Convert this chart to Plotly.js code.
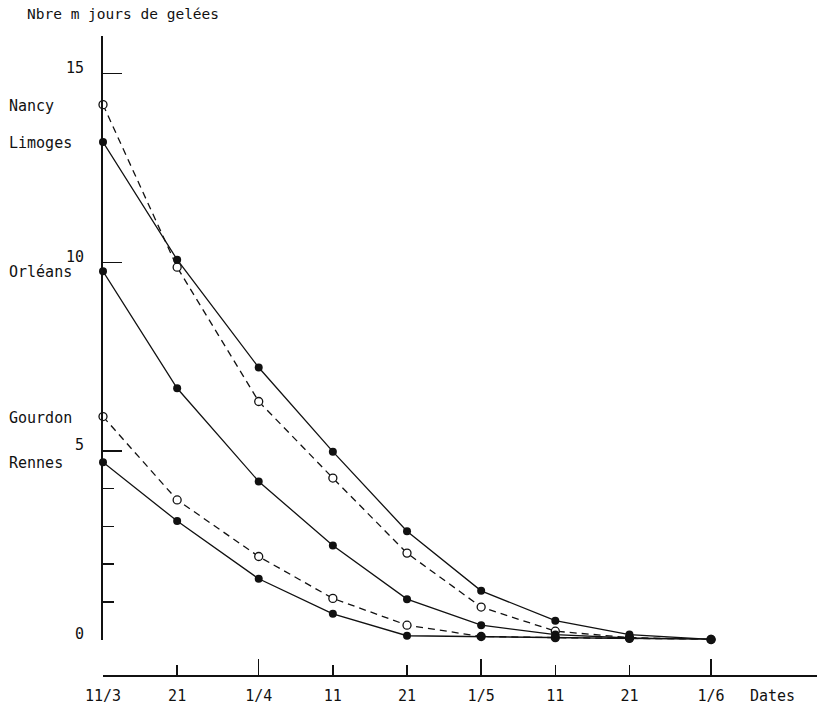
<!DOCTYPE html>
<html>
<head>
<meta charset="utf-8">
<script src="https://cdn.plot.ly/plotly-3.0.1.min.js"></script>
<style>html,body{margin:0;padding:0;background:#fff;}#chart{width:817px;height:705px;}</style>
</head>
<body>
<div id="chart"></div>
<script>
const dates = ["2001-03-11","2001-03-21","2001-04-01","2001-04-11","2001-04-21","2001-05-01","2001-05-11","2001-05-21","2001-06-01"];
const tickLabels = ["11/3","21","1/4","11","21","1/5","11","21","1/6"];
const longTickDates = ["2001-03-11","2001-04-01","2001-05-01","2001-06-01"];
const stations = ["Nancy","Limoges","Orléans","Gourdon","Rennes"];
const nancy   = [14.18, 9.87, 6.31, 4.28, 2.29, 0.86, 0.22, 0.05, 0];
const limoges = [13.19, 10.07, 7.21, 4.98, 2.87, 1.29, 0.50, 0.13, 0];
const orleans = [9.76, 6.66, 4.19, 2.49, 1.07, 0.38, 0.13, 0.04, 0];
const gourdon = [5.91, 3.70, 2.20, 1.09, 0.38, 0.08, 0.05, 0.03, 0];
const rennes  = [4.70, 3.14, 1.61, 0.68, 0.10, 0.08, 0.05, 0.03, 0];
const yTickVals = [0, 5, 10, 15];
const yMinorVals = [1, 2, 3, 4];
const yTitle = "Nbre m jours de gelées";
const xTitle = "Dates";

const FONT = "DejaVu Sans Mono, monospace";
const series = [nancy, limoges, orleans, gourdon, rennes];
const openSeries = [true, false, false, true, false];

const traces = [];
// dashed (open) first, then solid (filled)
const order = [0, 3, 1, 2, 4];
order.forEach(i => {
  const open = openSeries[i];
  traces.push({
    x: dates, y: series[i], name: stations[i], type: 'scatter', mode: 'lines+markers',
    cliponaxis: false, showlegend: false,
    line: {color: '#111', width: 1.3, dash: open ? '7px,5px' : 'solid'},
    marker: {size: 8, color: open ? '#fff' : '#111', line: {color: '#111', width: open ? 1.3 : 0}}
  });
});
traces.push({x: [], y: [], xaxis: 'x2', yaxis: 'y2', showlegend: false, hoverinfo: 'skip'});

const xRange = ["2001-03-11", "2001-06-15 07:00"];
const annotations = stations.map((s, i) => ({
  text: s, xref: 'paper', yref: 'y', x: -96/714, y: series[i][0], xanchor: 'left', yanchor: 'middle',
  yshift: -1, showarrow: false, font: {family: FONT, size: 15, color: '#111'}
}));
annotations.push({
  text: xTitle, xref: 'paper', yref: 'paper', x: 748/714 - 103/714, y: 0, xanchor: 'left', yanchor: 'top',
  yshift: -9, showarrow: false, font: {family: FONT, size: 15, color: '#111'}
});

const layout = {
  width: 817, height: 705,
  margin: {l: 103, r: 0, t: 36, b: 29},
  paper_bgcolor: '#fff', plot_bgcolor: '#fff',
  title: {text: yTitle, xref: 'container', yref: 'container', x: 27/817, xanchor: 'left', y: 1 - 14/705, yanchor: 'middle',
          font: {family: FONT, size: 14.5, color: '#111'}},
  xaxis: {
    type: 'date', range: xRange, anchor: 'free', position: 0,
    showgrid: false, zeroline: false, showline: true, linecolor: '#111', linewidth: 2,
    tickmode: 'array', tickvals: dates, ticktext: tickLabels,
    ticks: 'inside', ticklen: 10, tickwidth: 1.5, tickcolor: '#111',
    ticklabelstandoff: 6,
    tickfont: {family: FONT, size: 15, color: '#111'}
  },
  xaxis2: {
    type: 'date', matches: 'x', overlaying: 'x', anchor: 'free', position: 0,
    showgrid: false, zeroline: false, showline: false,
    tickmode: 'array', tickvals: longTickDates, showticklabels: false,
    ticks: 'inside', ticklen: 17, tickwidth: 1.5, tickcolor: '#111'
  },
  yaxis: {
    range: [0, 16], domain: [36.5/640, 1], anchor: 'x',
    showgrid: false, zeroline: false, showline: true, linecolor: '#111', linewidth: 2,
    tickmode: 'array', tickvals: yTickVals, ticktext: yTickVals.map(String),
    ticks: 'inside', ticklen: 19, tickwidth: 1.5, tickcolor: '#111',
    minor: {tickmode: 'array', tickvals: yMinorVals, ticks: 'inside', ticklen: 11, tickwidth: 1.5, tickcolor: '#111', showgrid: false},
    ticklabelstandoff: 14, ticklabelshift: -6,
    tickfont: {family: FONT, size: 15, color: '#111'}
  },
  yaxis2: {
    matches: 'y', overlaying: 'y', anchor: 'free', position: 0,
    showgrid: false, zeroline: false, showline: false,
    tickmode: 'array', tickvals: [0], showticklabels: false,
    ticks: 'inside', ticklen: 37, tickwidth: 2, tickcolor: '#111'
  },
  annotations: annotations
};

Plotly.newPlot('chart', traces, layout, {displayModeBar: false, staticPlot: true});
</script>
</body>
</html>
